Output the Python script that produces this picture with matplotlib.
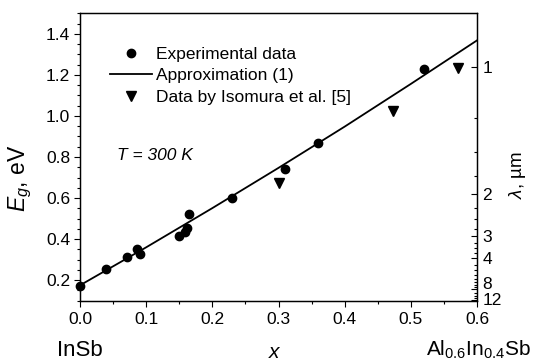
import numpy as np
import matplotlib
matplotlib.use("Agg")
import matplotlib.pyplot as plt
from matplotlib.ticker import FixedLocator, MultipleLocator
from matplotlib.lines import Line2D

plt.rcParams['font.family'] = ['Liberation Sans', 'DejaVu Sans']
plt.rcParams['mathtext.fontset'] = 'custom'
plt.rcParams['mathtext.rm'] = 'Liberation Sans'
plt.rcParams['mathtext.it'] = 'Liberation Sans:italic'

# Measured band gaps of Al(x)In(1-x)Sb at 300 K
x_exp = [0.0, 0.040, 0.071, 0.086, 0.091, 0.150, 0.159, 0.161, 0.165, 0.230, 0.310, 0.360, 0.520]
eg_exp = [0.174, 0.252, 0.311, 0.352, 0.328, 0.416, 0.437, 0.454, 0.523, 0.602, 0.741, 0.867, 1.227]

# Literature values (Isomura et al.)
x_iso = [0.301, 0.473, 0.571]
eg_iso = [0.675, 1.024, 1.233]

# Approximation curve
x_fit = [0.0, 0.1, 0.2, 0.3, 0.4, 0.5, 0.6]
eg_fit = [0.175, 0.360, 0.551, 0.747, 0.948, 1.156, 1.368]

# Axis ticks
x_ticks = [0.0, 0.1, 0.2, 0.3, 0.4, 0.5, 0.6]
x_ticklabels = ['0.0', '0.1', '0.2', '0.3', '0.4', '0.5', '0.6']
y_ticks = [0.2, 0.4, 0.6, 0.8, 1.0, 1.2, 1.4]
y_ticklabels = ['0.2', '0.4', '0.6', '0.8', '1.0', '1.2', '1.4']

# Wavelength scale on the right axis (lambda = 1.24 / Eg)
lam_major = [1, 2, 3, 4, 8, 12]
lam_minor = [1.25, 1.5, 1.75, 2.25, 2.5, 2.75, 3.25, 3.5, 3.75,
             4.5, 5, 5.5, 6, 6.5, 7, 7.5, 9, 10, 11]

FS = 12.5
W, H = 537, 361
fig = plt.figure(figsize=(W / 100, H / 100), dpi=100)
L, R, T, B = 80, 477, 13.3, 300.7
ax = fig.add_axes([L / W, 1 - B / H, (R - L) / W, (B - T) / H])

ax.plot(x_fit, eg_fit, color='black', lw=1.3, zorder=2)
ax.plot(x_exp, eg_exp, 'o', color='black', ms=6, zorder=3, clip_on=False)
ax.plot(x_iso, eg_iso, 'v', color='black', ms=7.5, zorder=3)

ax.set_xlim(0, 0.6)
ax.set_ylim(0.1, 1.5)
ax.xaxis.set_major_locator(FixedLocator(x_ticks))
ax.xaxis.set_minor_locator(FixedLocator([0.05, 0.15, 0.25, 0.35, 0.45, 0.55]))
ax.set_xticklabels(x_ticklabels)
ax.yaxis.set_major_locator(FixedLocator(y_ticks))
ax.yaxis.set_minor_locator(MultipleLocator(0.05))
ax.set_yticklabels(y_ticklabels)
ax.tick_params(axis='both', which='major', direction='out', length=4, width=0.8,
               labelsize=FS, pad=3)
ax.tick_params(axis='both', which='minor', direction='out', length=2.2, width=0.8)
ax.tick_params(axis='x', pad=4)
for s in ax.spines.values():
    s.set_linewidth(0.9)

# Right axis: wavelength in micrometres
ax2 = ax.twinx()
ax2.set_ylim(ax.get_ylim())
ax2.yaxis.set_major_locator(FixedLocator([1.24 / l for l in lam_major]))
ax2.yaxis.set_minor_locator(FixedLocator([1.24 / l for l in lam_minor]))
rlabels = ax2.set_yticklabels([str(l) for l in lam_major])
rlabels[-2].set_va('baseline')   # "8" sits just above its tick
rlabels[-1].set_va('center')
ax2.tick_params(axis='y', which='major', direction='in', length=4, width=0.8,
                labelsize=FS, pad=4)
ax2.tick_params(axis='y', which='minor', direction='in', length=2.2, width=0.8)
for s in ax2.spines.values():
    s.set_linewidth(0.9)

# Legend
handles = [
    Line2D([], [], marker='o', ls='none', color='black', ms=6),
    Line2D([], [], color='black', lw=1.3),
    Line2D([], [], marker='v', ls='none', color='black', ms=7.5),
]
labels = ['Experimental data', 'Approximation (1)', 'Data by Isomura et al. [5]']
ax.legend(handles, labels, loc='upper left', frameon=False, fontsize=FS,
          bbox_to_anchor=((110 - L) / (R - L), 1 - (46.5 - T) / (B - T)),
          borderpad=0, borderaxespad=0, handlelength=2.4, handletextpad=0.25,
          labelspacing=0.38, numpoints=1)

ax.text((117 - L) / (R - L), 1 - (155 - T) / (B - T), 'T = 300 K',
        transform=ax.transAxes, fontsize=FS, style='italic', ha='left', va='center')

# Axis titles
fig.text(20 / W, 1 - 178 / H, r'$E_g$, eV', rotation=90, ha='center', va='center',
         fontsize=16.5)
fig.text(517 / W, 1 - 175 / H, r'$\lambda$, µm', rotation=90, ha='center', va='center',
         fontsize=13.5)
fig.text(80 / W, 1 - 351 / H, 'InSb', ha='center', va='center', fontsize=16)
fig.text(274 / W, 1 - 352 / H, 'x', ha='center', va='center', fontsize=15,
         style='italic')
fig.text(478 / W, 1 - 350 / H, r'Al$_{0.6}$In$_{0.4}$Sb', ha='center', va='center',
         fontsize=15)

fig.savefig('out.png', dpi=100)
